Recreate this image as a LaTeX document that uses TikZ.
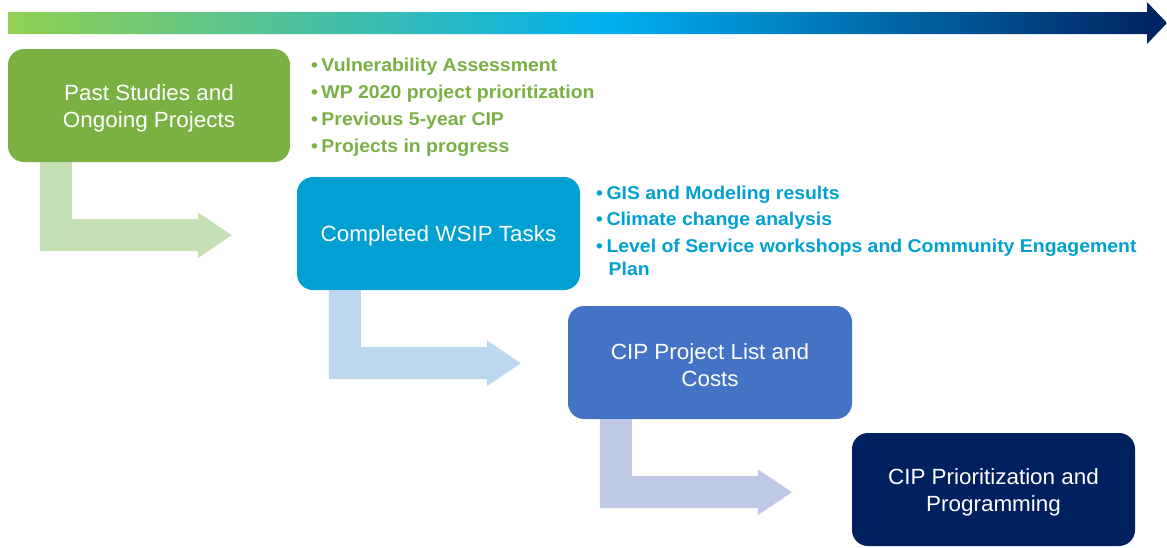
\documentclass[tikz,border=0pt]{standalone}
\usepackage{fontspec}
\setmainfont{Liberation Sans}
\newfontfamily\boxfont[FakeStretch=1.02]{Liberation Sans}
\newfontfamily\bulfont[FakeStretch=1.05]{Liberation Sans}
\usetikzlibrary{calc}
\definecolor{boxone}{RGB}{122,177,66}
\definecolor{boxtwo}{RGB}{0,160,210}
\definecolor{boxthree}{RGB}{68,114,196}
\definecolor{boxfour}{RGB}{0,32,96}
\definecolor{arrone}{RGB}{197,224,180}
\definecolor{arrtwo}{RGB}{189,215,238}
\definecolor{arrthree}{RGB}{191,201,229}
\definecolor{txtgreen}{RGB}{120,176,67}
\definecolor{txtblue}{RGB}{0,160,210}
\pgfdeclarehorizontalshading{topbar}{100bp}{rgb(0bp)=(0.573,0.816,0.314); rgb(25bp)=(0.573,0.816,0.314); rgb(51bp)=(0,0.69,0.941); rgb(75bp)=(0,0.125,0.376); rgb(100bp)=(0,0.125,0.376)}
\newcommand\bentarrow[2]{%
  \fill[#2] ($(#1.south west)+(32,0)$) -- ($(#1.south west)+(64,0)$) -- ($(#1.south west)+(64,57)$)
   -- ($(#1.south west)+(190,57)$) -- ($(#1.south west)+(190,50)$) -- ($(#1.south west)+(224,73)$)
   -- ($(#1.south west)+(190,96)$) -- ($(#1.south west)+(190,89)$) -- ($(#1.south west)+(32,89)$) -- cycle;}
\tikzset{
  stagebox/.style={rounded corners=16pt, minimum width=283pt, minimum height=113pt, inner sep=0pt},
  boxtext/.style={text=white, align=center, inner sep=0pt, yshift=-2.5pt, font=\boxfont\fontsize{22}{27}\selectfont},
  bul/.style={anchor=base west, inner sep=0pt, font=\bulfont\bfseries\fontsize{18.5}{23.5}\selectfont},
  bulgreen/.style={bul, text=txtgreen},
  bulblue/.style={bul, text=txtblue}
}
\newcommand\bu{\textbullet\hspace{3.5pt}}
\begin{document}
\begin{tikzpicture}[x=1pt,y=-1pt]
\useasboundingbox (0,0) rectangle (1167,547);
% timeline bar
\shade[shading=topbar] (8,12) -- (1147,12) -- (1147,2) -- (1167,23) -- (1147,44) -- (1147,34) -- (8,34) -- cycle;
% stage boxes
\node[stagebox, fill=boxone, minimum width=282pt, label={[boxtext]center:Past Studies and\\Ongoing Projects}] (b1) at (149,105.5) {};
\node[stagebox, fill=boxtwo, label={[boxtext]center:Completed WSIP Tasks}] (b2) at (438.5,233.5) {};
\node[stagebox, fill=boxthree, minimum width=284pt, label={[boxtext]center:CIP Project List and\\Costs}] (b3) at (710,362.5) {};
\node[stagebox, fill=boxfour, label={[boxtext]center:CIP Prioritization and\\Programming}] (b4) at (993.5,489.5) {};
% bent arrows
\bentarrow{b1}{arrone}
\bentarrow{b2}{arrtwo}
\bentarrow{b3}{arrthree}
% green bullets
\node[bulgreen] (g1) at (311,71) {\bu Vulnerability Assessment};
\node[bulgreen] (g2) at (311,98) {\bu WP 2020 project prioritization};
\node[bulgreen] (g3) at (311,125) {\bu Previous 5-year CIP};
\node[bulgreen] (g4) at (311,152) {\bu Projects in progress};
% blue bullets
\node[bulblue] (l1) at (596,199) {\bu GIS and Modeling results};
\node[bulblue] (l2) at (596,225.5) {\bu Climate change analysis};
\node[bulblue] (l3) at (596,252) {\bu Level of Service workshops and Community Engagement};
\node[bulblue] (l3b) at (l3.base west) [xshift=12.5pt, yshift=-23.5pt] {Plan};
\end{tikzpicture}
\end{document}
